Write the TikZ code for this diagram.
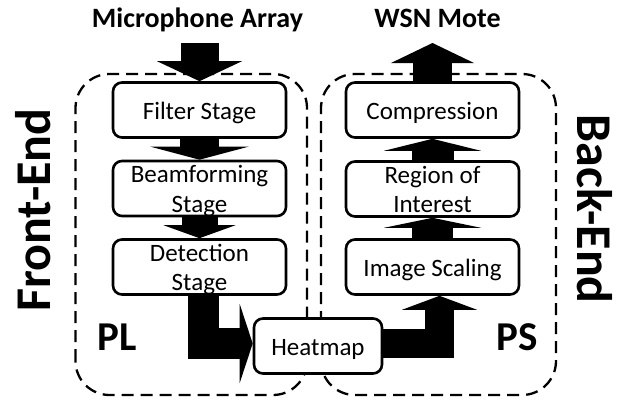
\documentclass[tikz,border=0pt]{standalone}
\usepackage{fontspec}
\setmainfont{Carlito}
\usetikzlibrary{arrows.meta}

\tikzset{
  stage/.style={draw, line width=2.6pt, rounded corners=9pt, fill=white,
    minimum width=173pt, minimum height=55pt, inner sep=0pt, align=center,
    font=\fontsize{25}{29.5}\selectfont},
  oneline/.style={text height=18pt, text depth=0pt},
  twoline/.style={text height=47pt, text depth=0pt},
  group/.style={draw, line width=2.3pt, dash pattern=on 12pt off 7pt, rounded corners=34pt},
  flow/.style n args={3}{line width=#1, -{Triangle[line width=0pt, width=#2, length=#3]}},
  tag/.style={font=\fontsize{28}{28}\bfseries\selectfont, anchor=base},
  side/.style={font=\fontsize{50}{50}\bfseries\selectfont, anchor=base},
  part/.style={font=\fontsize{41}{41}\bfseries\selectfont, anchor=base}
}

\begin{document}
\begin{tikzpicture}[x=1pt, y=1pt]
  \useasboundingbox (0,0) rectangle (628,400);

  % PL and PS regions
  \draw[group] (75.5,5) rectangle (307,326);
  \draw[group] (321,5) rectangle (556,326);

  % front-end chain
  \node[stage, oneline] (filter) at (199.5,290) {Filter Stage};
  \node[stage, twoline] (beam) at (199.5,211.5) {Beamforming\\Stage};
  \node[stage, twoline] (detect) at (199.5,133) {Detection\\Stage};

  % back-end chain
  \node[stage, oneline] (compress) at (432.5,290) {Compression};
  \node[stage, twoline] (roi) at (432.5,211) {Region of\\Interest};
  \node[stage, oneline] (scale) at (432.5,133) {Image Scaling};

  \node[stage, oneline, minimum width=128pt] (heat) at (318,54) {Heatmap};

  \node[tag] (mic) at (197.5,373) {Microphone Array};
  \node[tag] (mote) at (437.5,373) {WSN Mote};
  \coordinate (micout) at (199.5,357);
  \coordinate (motein) at (432.5,357);

  \node[side, rotate=90] (front) at (50,190) {Front-End};
  \node[side, rotate=-90] (back) at (577,191) {Back-End};
  \node[part] (pl) at (117,50) {PL};
  \node[part] (ps) at (517,50) {PS};

  % data flow
  \draw[flow={38pt}{85pt}{20pt}] (micout) -- (filter.north);
  \draw[flow={39pt}{98pt}{13pt}] (filter.south) -- (beam.north);
  \draw[flow={36pt}{72pt}{13pt}] (beam.south) -- (detect.north);
  \draw[flow={31pt}{79pt}{13pt}] ([xshift=4pt]detect.south) |- ([yshift=2.5pt]heat.west);
  \draw[flow={29pt}{75pt}{14pt}] ([yshift=3pt]heat.east) -| ([xshift=7pt]scale.south);
  \draw[flow={41pt}{97pt}{10pt}] (scale.north) -- (roi.south);
  \draw[flow={42pt}{97pt}{12pt}] (roi.north) -- (compress.south);
  \draw[flow={39pt}{83pt}{20pt}] (compress.north) -- (motein);
\end{tikzpicture}
\end{document}
